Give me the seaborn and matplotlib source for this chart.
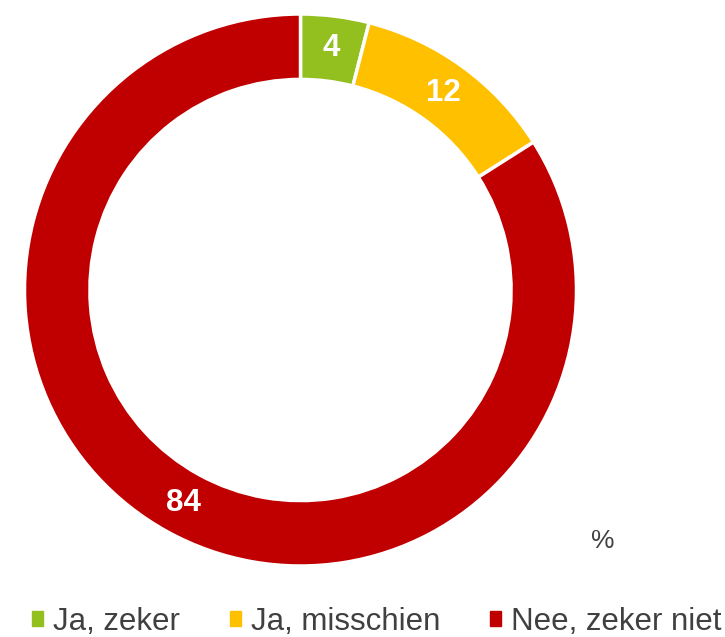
import matplotlib
matplotlib.use('Agg')
import matplotlib.pyplot as plt
import seaborn as sns
import numpy as np
from matplotlib.patches import Patch

# Data
categories = ['Ja, zeker', 'Ja, misschien', 'Nee, zeker niet']
values = [4, 12, 84]
colors = ['#93c01f', '#ffc000', '#c00000']

sns.set_theme(style='white')
plt.rcParams['font.family'] = ['Liberation Sans', 'DejaVu Sans']

fig = plt.figure(figsize=(7.25, 6.37), dpi=100)

# square axes so the donut sits where it does in the reference
cx, cy, r = 300.5, 290, 276
ax = fig.add_axes([(cx - r) / 725, (637 - cy - r) / 637, 2 * r / 725, 2 * r / 637])

wedges, _ = ax.pie(values, colors=colors, startangle=90, counterclock=False,
                   radius=1, wedgeprops=dict(width=0.237, edgecolor='white', linewidth=2.5))
ax.set_xlim(-1, 1)
ax.set_ylim(-1, 1)
ax.set_aspect('equal')
ax.axis('off')

# value labels in the middle of the ring
lab_r = 0.882
cum = 0
for v in values:
    mid = (cum + v / 2) / sum(values) * 360
    ang = np.deg2rad(90 - mid)
    ax.text(lab_r * np.cos(ang), lab_r * np.sin(ang), str(v), color='white',
            fontsize=22.5, fontweight='bold', ha='center', va='center')
    cum += v

fig.text(603 / 725, 1 - 541 / 637, '%', fontsize=19, color='#404040', ha='center', va='center')

handles = [Patch(facecolor=c, edgecolor=c) for c in colors]
fig.legend(handles, categories, loc='center', bbox_to_anchor=(377 / 725, 1 - 622 / 637),
           ncol=3, frameon=False, fontsize=22.5, labelcolor='#404040',
           borderaxespad=0, borderpad=0,
           handlelength=0.35, handleheight=0.35, handletextpad=0.32, columnspacing=1.6)

plt.savefig('out.png', dpi=100)
